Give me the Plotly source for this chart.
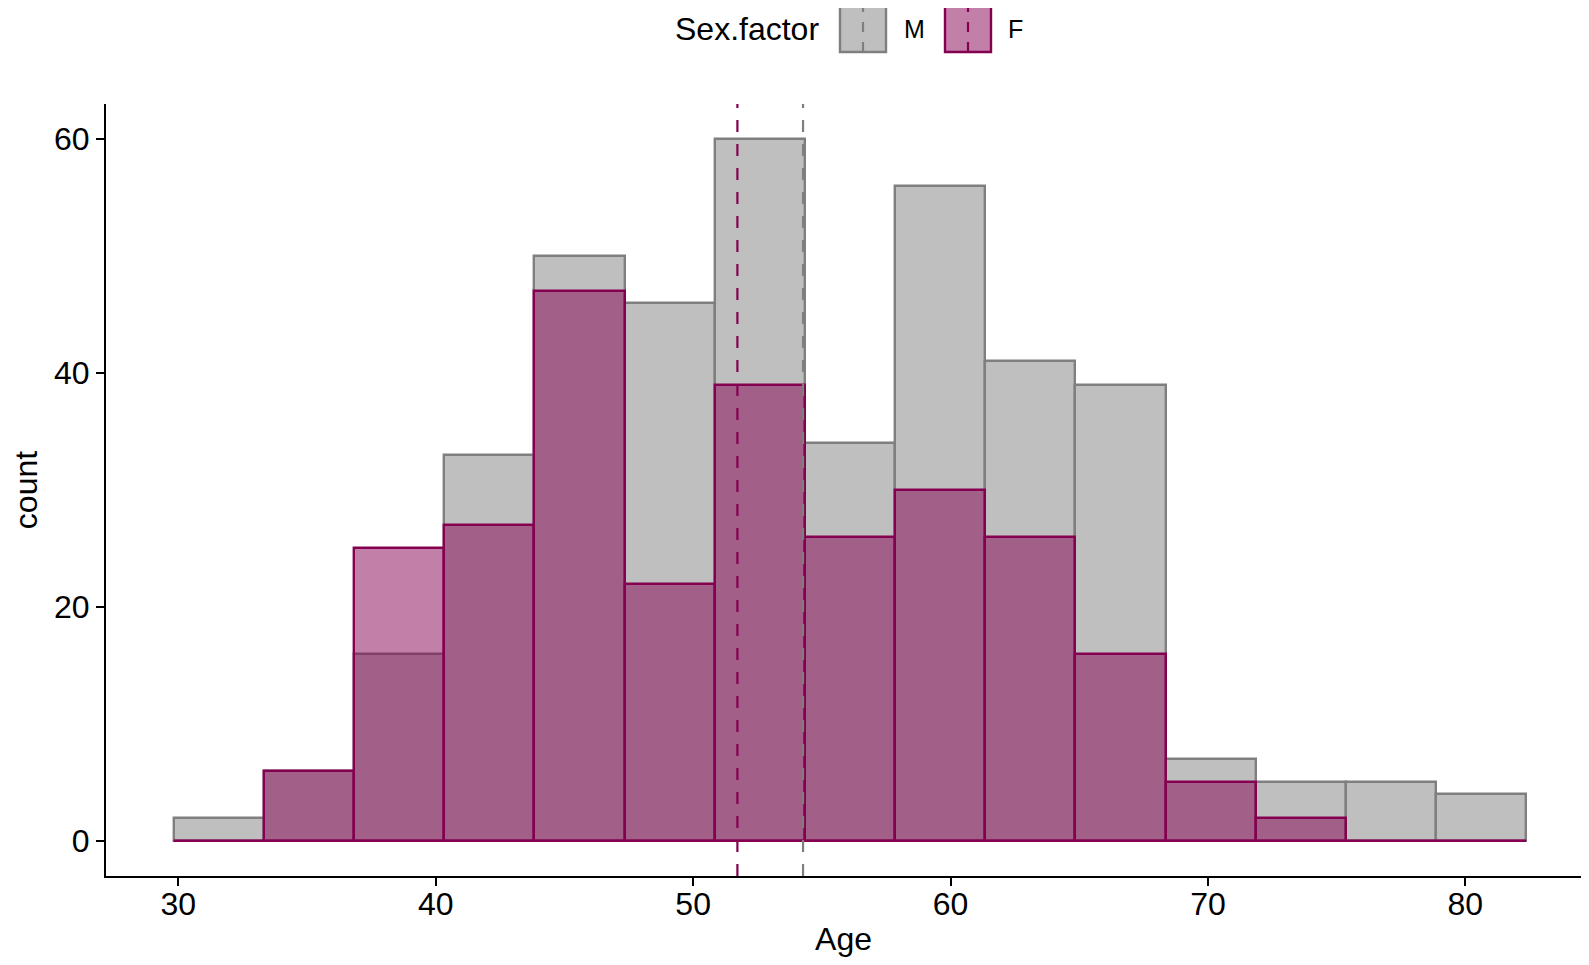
import plotly.graph_objects as go

# ---- data ----
bin_start = 29.82
bin_width = 3.503
m_counts = [2, 6, 16, 33, 50, 46, 60, 34, 56, 41, 39, 7, 5, 5, 4]
f_counts = [0, 6, 25, 27, 47, 22, 39, 26, 30, 26, 16, 5, 2, 0, 0]
mean_m = 54.27
mean_f = 51.72
x_ticks = [30, 40, 50, 60, 70, 80]
y_ticks = [0, 20, 40, 60]

groups = ["M", "F"]
line_colors = {"M": "#7F7F7F", "F": "#850050"}
fill_colors = {"M": "rgba(127,127,127,0.5)", "F": "rgba(133,0,80,0.5)"}
counts = {"M": m_counts, "F": f_counts}
means = {"M": mean_m, "F": mean_f}

n = len(m_counts)
centers = [bin_start + bin_width * (i + 0.5) for i in range(n)]
bin_end = bin_start + bin_width * n

FONT = "Liberation Sans, Arial, Helvetica, sans-serif"
BW = 2.4

fig = go.Figure()
for g in groups:
    fig.add_trace(go.Bar(
        x=centers, y=counts[g], width=bin_width, name=g,
        marker=dict(color=fill_colors[g], line=dict(color=line_colors[g], width=BW)),
        showlegend=False,
    ))

# baseline for zero-count F bins (ggplot draws outline along 0)
fig.add_trace(go.Scatter(
    x=[bin_start, bin_end], y=[0, 0], mode="lines",
    line=dict(color=line_colors["F"], width=BW), showlegend=False, hoverinfo="skip",
))

# mean lines
for g in groups:
    fig.add_shape(type="line", xref="x", yref="y domain", x0=means[g], x1=means[g], y0=0, y1=1,
                  line=dict(color=line_colors[g], width=2.2, dash="12px,12px"), layer="above")

# ---- layout geometry (page body has 8px margin; figure sized to fit without scrolling) ----
OFF = 8
W, H = 1589 - 2 * OFF, 965 - 2 * OFF
L, T = 106 - OFF, 104 - OFF
R = 0
B = H - (876 - OFF)
pw, ph = W - L - R, H - T - B

# x range chosen so the scale matches the reference
x_px_per_unit = 25.74
x_min = 27.19
x_max = x_min + pw / x_px_per_unit


def px(xp):
    return (xp - OFF - L) / pw


def py(yp):
    return (H - B - (yp - OFF)) / ph


# manual legend
fig.add_annotation(x=px(673), y=py(29), xref="paper", yref="paper", text="Sex.factor",
                   showarrow=False, xanchor="left", yanchor="middle",
                   font=dict(size=32, color="black", family=FONT))
legend_boxes = {"M": (840, 886, 902), "F": (945, 991, 1006)}
for g in groups:
    x0, x1, xt = legend_boxes[g]
    fig.add_shape(type="rect", xref="paper", yref="paper", x0=px(x0), x1=px(x1), y0=py(52), y1=py(6),
                  line=dict(color=line_colors[g], width=2.4), fillcolor=fill_colors[g], layer="above")
    fig.add_shape(type="line", xref="paper", yref="paper", x0=px((x0 + x1) / 2), x1=px((x0 + x1) / 2),
                  y0=py(52), y1=py(6), line=dict(color=line_colors[g], width=2.2, dash="10px,10px"),
                  layer="above")
    fig.add_annotation(x=px(xt), y=py(29), xref="paper", yref="paper", text=g, showarrow=False,
                       xanchor="left", yanchor="middle", font=dict(size=25, color="black", family=FONT))

fig.update_layout(
    width=W, height=H,
    margin=dict(l=L, r=R, t=T, b=B, autoexpand=False),
    barmode="overlay", bargap=0,
    plot_bgcolor="white", paper_bgcolor="white",
    font=dict(family=FONT, size=32, color="black"),
    showlegend=False,
    xaxis=dict(
        range=[x_min, x_max], tickvals=x_ticks, ticks="outside", ticklen=8, tickwidth=1.8,
        tickcolor="black", showline=True, linecolor="black", linewidth=2.2, showgrid=False,
        zeroline=False, tickfont=dict(size=32), automargin=False, ticklabelstandoff=-10,
        title=dict(text="Age", font=dict(size=32), standoff=16),
    ),
    yaxis=dict(
        range=[-3, 63], tickvals=y_ticks, ticks="outside", ticklen=8, tickwidth=1.8,
        tickcolor="black", showline=True, linecolor="black", linewidth=2.2, showgrid=False,
        zeroline=False, tickfont=dict(size=32), automargin=False,
        title=dict(text="count", font=dict(size=32), standoff=8),
    ),
)

fig.write_html("out.html")
